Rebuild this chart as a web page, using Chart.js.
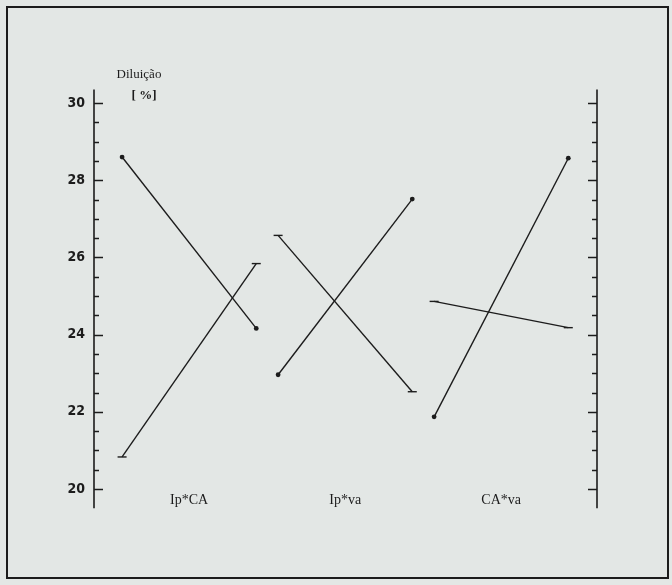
<!DOCTYPE html>
<html>
<head>
<meta charset="utf-8">
<script src="https://cdn.jsdelivr.net/npm/chart.js@4.4.1/dist/chart.umd.min.js"></script>
<style>
  html, body { margin: 0; padding: 0; background: #e3e7e5; }
  #wrap { position: relative; width: 672px; height: 585px; overflow: hidden; }
  #frame { position: absolute; left: 6px; top: 6px; width: 663px; height: 573px; border: 2px solid #1c1c1c; box-sizing: border-box; }
  canvas { position: absolute; left: 0; top: 0; }
</style>
</head>
<body>
<div id="wrap">
  <div id="frame"></div>
  <canvas id="c" width="672" height="585"></canvas>
</div>
<script>
// ---- data ----
const categories = ['Ip*CA', 'Ip*va', 'CA*va'];
// series drawn with dot markers: value at first level, value at second level
const dotStart = [28.6, 22.96, 21.87];
const dotEnd   = [24.16, 27.51, 28.57];
// series drawn with dash markers
const dashStart = [20.83, 26.57, 24.86];
const dashEnd   = [25.84, 22.52, 24.18];
// y tick labels
const yTickValues = [20, 22, 24, 26, 28, 30];
const yTickLabels = ['20', '22', '24', '26', '28', '30'];
const yTitle = ['Diluição', '[ %]'];

const INK = '#1c1c1c';
const SPAN = 0.86;

const datasets = [];
categories.forEach((c, g) => {
  datasets.push({
    data: [{x: g, y: dotStart[g]}, {x: g + SPAN, y: dotEnd[g]}],
    borderColor: INK, backgroundColor: INK, borderWidth: 1.4,
    pointStyle: 'circle', pointRadius: 2.4, pointBorderWidth: 0,
    tension: 0
  });
  datasets.push({
    data: [{x: g, y: dashStart[g]}, {x: g + SPAN, y: dashEnd[g]}],
    borderColor: INK, backgroundColor: INK, borderWidth: 1.4,
    pointStyle: 'line', pointRadius: 4.5, pointBorderWidth: 1.4,
    tension: 0
  });
});

const axesPlugin = {
  id: 'axesPlugin',
  afterDraw(chart) {
    const ctx = chart.ctx;
    const y = chart.scales.y;
    const area = chart.chartArea;
    const L = area.left, R = area.right;
    const yTop = y.getPixelForValue(30.35);
    const yBot = y.getPixelForValue(19.5);
    ctx.save();
    ctx.strokeStyle = INK;
    ctx.lineWidth = 1.6;
    ctx.beginPath();
    ctx.moveTo(L, yTop); ctx.lineTo(L, yBot);
    ctx.moveTo(R, yTop); ctx.lineTo(R, yBot);
    ctx.stroke();
    ctx.lineWidth = 1.3;
    ctx.beginPath();
    for (let v = 20; v <= 30.001; v += 0.5) {
      const py = Math.round(y.getPixelForValue(v)) + 0.5;
      const major = Math.abs(v - Math.round(v / 2) * 2) < 1e-6;
      const len = major ? 9 : 5;
      ctx.moveTo(L, py); ctx.lineTo(L + len, py);
      ctx.moveTo(R, py); ctx.lineTo(R - len, py);
    }
    ctx.stroke();
    // axis title
    ctx.fillStyle = INK;
    ctx.textAlign = 'center';
    ctx.textBaseline = 'middle';
    ctx.font = '13px "Liberation Serif", "Times New Roman", serif';
    ctx.fillText(yTitle[0], L + 45, y.getPixelForValue(30) - 28);
    ctx.font = 'bold 13px "Liberation Serif", "Times New Roman", serif';
    ctx.fillText(yTitle[1], L + 50, y.getPixelForValue(30) - 7);
    ctx.restore();
  }
};

new Chart(document.getElementById('c'), {
  type: 'line',
  data: { datasets },
  options: {
    responsive: false,
    animation: false,
    layout: { padding: { left: 0, right: 75, top: 103, bottom: 0 } },
    plugins: { legend: { display: false }, tooltip: { enabled: false }, title: { display: false } },
    scales: {
      x: {
        type: 'linear', min: -0.18, max: 3.044,
        grid: { display: false, drawTicks: false },
        border: { display: false },
        afterFit(s) { s.height = 96; },
        afterBuildTicks(s) { s.ticks = categories.map((c, i) => ({ value: i + SPAN / 2 })); },
        ticks: {
          padding: 3,
          color: INK,
          maxRotation: 0,
          autoSkip: false,
          font: { family: '"Liberation Serif", "Times New Roman", serif', size: 14 },
          callback(v) { const i = Math.round(v - SPAN / 2); return categories[i]; }
        }
      },
      y: {
        type: 'linear', min: 20, max: 30,
        grid: { display: false, drawTicks: false },
        border: { display: false },
        afterFit(s) { s.width = 94; },
        afterBuildTicks(s) { s.ticks = yTickValues.map(v => ({ value: v })); },
        ticks: {
          padding: 9,
          color: INK,
          font: { family: '"Liberation Sans Narrow", "DejaVu Sans Condensed", Arial, sans-serif', size: 14, weight: 'bold' },
          callback(v) { const i = yTickValues.indexOf(v); return i >= 0 ? yTickLabels[i] : ''; }
        }
      }
    }
  },
  plugins: [axesPlugin]
});
</script>
</body>
</html>
